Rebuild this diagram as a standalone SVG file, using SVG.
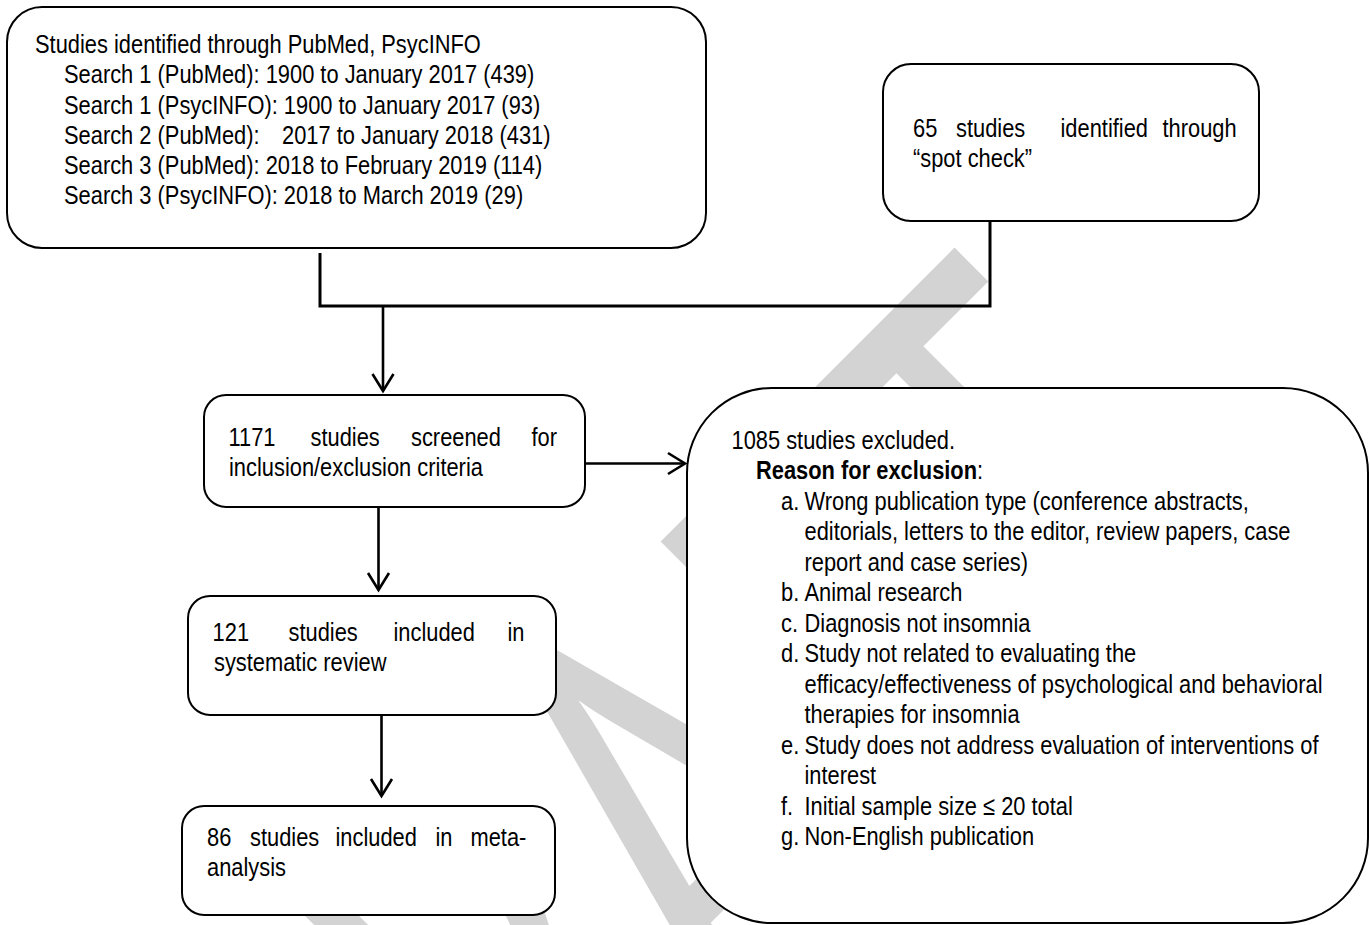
<svg xmlns="http://www.w3.org/2000/svg" width="1370" height="925" viewBox="0 0 1370 925">
<defs>
<style>
.t{font-family:'Liberation Sans',Arial,sans-serif;font-size:26.67px;fill:#000}
.b{font-weight:bold}
.box{fill:#fff;stroke:#000;stroke-width:2}
.c{fill:none;stroke:#000;stroke-width:2.6}
.br{fill:none;stroke:#000;stroke-width:3}
.wm{font-family:Lato,'Open Sans',sans-serif;font-size:586px;fill:#d3d3d3}
</style>
<marker id="arr" markerUnits="userSpaceOnUse" viewBox="-20 -12 22 24" refX="0" refY="0" markerWidth="22" markerHeight="24" orient="auto" overflow="visible">
<path d="M-17,-10.5 L0,0 L-17,10.5" fill="none" stroke="#000" stroke-width="2.6"/>
</marker>
</defs>
<rect x="0" y="0" width="1370" height="925" fill="#fff"/>
<text class="wm" transform="translate(354 1442) rotate(-45)" textLength="1275" lengthAdjust="spacingAndGlyphs">DRAFT</text>

<g id="connectors">
<path class="br" d="M320,253 V306 H990 V221"/>
<path class="c" d="M383,306 V391" marker-end="url(#arr)"/>
<path class="c" d="M585,463.5 H685" marker-end="url(#arr)"/>
<path class="c" d="M378.5,507 V590" marker-end="url(#arr)"/>
<path class="c" d="M381.5,715 V796" marker-end="url(#arr)"/>
</g>

<g id="n1">
<rect class="box" x="7" y="7" width="699" height="241" rx="35" ry="35"/>
<g transform="scale(0.82 1)">
<text class="t" x="42.68" y="53.3">Studies identified through PubMed, PsycINFO</text>
<text class="t" x="78.05" y="83.5">Search 1 (PubMed): 1900 to January 2017 (439)</text>
<text class="t" x="78.05" y="113.7">Search 1 (PsycINFO): 1900 to January 2017 (93)</text>
<text class="t" y="143.9"><tspan x="78.05">Search 2 (PubMed):</tspan><tspan x="343.9">2017 to January 2018 (431)</tspan></text>
<text class="t" x="78.05" y="174.1">Search 3 (PubMed): 2018 to February 2019 (114)</text>
<text class="t" x="78.05" y="204.3">Search 3 (PsycINFO): 2018 to March 2019 (29)</text>
</g>
</g>

<g id="n2">
<rect class="box" x="883" y="64" width="376" height="157" rx="28" ry="28"/>
<g transform="scale(0.82 1)">
<text class="t" y="137"><tspan x="1113.41">65</tspan><tspan x="1165.85">studies</tspan><tspan x="1293.29">identified</tspan><tspan x="1417.68">through</tspan></text>
<text class="t" x="1113.41" y="167">“spot check”</text>
</g>
</g>

<g id="n3">
<rect class="box" x="204" y="395" width="381" height="112" rx="22" ry="22"/>
<g transform="scale(0.82 1)">
<text class="t" y="446"><tspan x="278.66">1171</tspan><tspan x="378.66">studies</tspan><tspan x="501.22">screened</tspan><tspan x="648.17">for</tspan></text>
<text class="t" x="279.27" y="476">inclusion/exclusion criteria</text>
</g>
</g>

<g id="n4">
<rect class="box" x="188" y="596" width="368" height="119" rx="22" ry="22"/>
<g transform="scale(0.82 1)">
<text class="t" y="641"><tspan x="259.27">121</tspan><tspan x="351.83">studies</tspan><tspan x="479.88">included</tspan><tspan x="618.9">in</tspan></text>
<text class="t" x="260.98" y="671">systematic review</text>
</g>
</g>

<g id="n5">
<rect class="box" x="182" y="806" width="373" height="109" rx="22" ry="22"/>
<g transform="scale(0.82 1)">
<text class="t" y="846"><tspan x="252.44">86</tspan><tspan x="304.88">studies</tspan><tspan x="409.15">included</tspan><tspan x="531.1">in</tspan><tspan x="573.78">meta-</tspan></text>
<text class="t" x="252.44" y="876">analysis</text>
</g>
</g>

<g id="n6">
<rect class="box" x="687" y="388" width="681" height="535" rx="85" ry="85"/>
<g transform="scale(0.82 1)">
<text class="t" x="892.07" y="449">1085 studies excluded.</text>
<text class="t" x="921.95" y="479.5"><tspan class="b">Reason for exclusion</tspan>:</text>
<text class="t" y="510"><tspan x="952.44">a.</tspan><tspan x="981.1">Wrong publication type (conference abstracts,</tspan></text>
<text class="t" x="981.1" y="540.5">editorials, letters to the editor, review papers, case</text>
<text class="t" x="981.1" y="571">report and case series)</text>
<text class="t" y="601.5"><tspan x="952.44">b.</tspan><tspan x="981.1">Animal research</tspan></text>
<text class="t" y="632"><tspan x="952.44">c.</tspan><tspan x="981.1">Diagnosis not insomnia</tspan></text>
<text class="t" y="662.5"><tspan x="952.44">d.</tspan><tspan x="981.1">Study not related to evaluating the</tspan></text>
<text class="t" x="981.1" y="693">efficacy/effectiveness of psychological and behavioral</text>
<text class="t" x="981.1" y="723.5">therapies for insomnia</text>
<text class="t" y="754"><tspan x="952.44">e.</tspan><tspan x="981.1">Study does not address evaluation of interventions of</tspan></text>
<text class="t" x="981.1" y="784.5">interest</text>
<text class="t" y="815"><tspan x="952.44">f.</tspan><tspan x="981.1">Initial sample size ≤ 20 total</tspan></text>
<text class="t" y="845.5"><tspan x="952.44">g.</tspan><tspan x="981.1">Non-English publication</tspan></text>
</g>
</g>
</svg>
